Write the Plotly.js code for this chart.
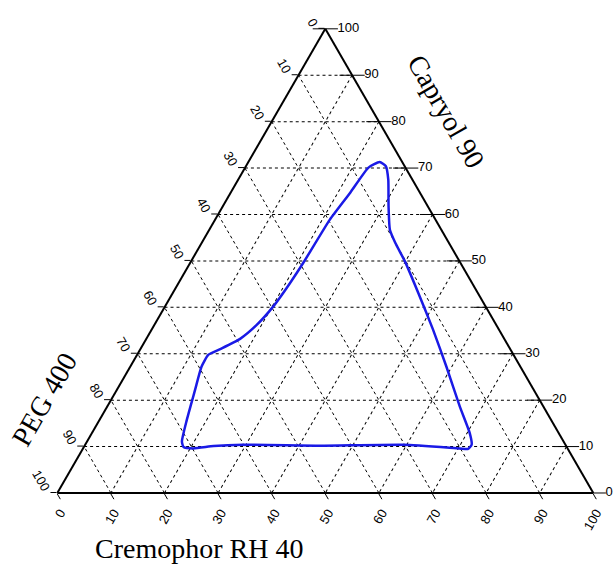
<!DOCTYPE html>
<html>
<head>
<meta charset="utf-8">
<script src="https://cdn.plot.ly/plotly-3.0.1.min.js"></script>
<style>html,body{margin:0;padding:0;background:#fff;}#chart{width:615px;height:568px;}</style>
</head>
<body>
<div id="chart"></div>
<script>
// Component names
const componentA = "Capryol 90";      // top vertex
const componentB = "PEG 400";         // bottom-left vertex
const componentC = "Cremophor RH 40"; // bottom-right vertex

// Boundary of the region (percent), traced around the outline
const capryol   = [71.3,70.4,67.5,61.8,56.7,53.9,49.9,43.1,35.2,27.2,18.6,12.9,10.4,9.5,9.6,10.4,10.2,10.4,10.1,9.6,9.9,11.1,15.7,22.2,27.2,29.8,31.0,33.2,36.2,40.2,45.2,49.6,58.9,64.7,70.1,71.3];
const peg       = [4.2,3.5,4.5,7.3,9.6,10.0,10.2,11.1,12.3,13.8,15.6,16.6,17.5,18.6,20.1,30.2,45.9,60.1,65.8,69.8,71.5,71.2,68.0,63.2,59.5,56.9,54.1,49.3,44.7,39.6,34.0,29.3,19.7,13.0,6.9,4.2];
const cremophor = [24.5,26.1,28.0,30.9,33.7,36.1,39.9,45.8,52.5,59.0,65.8,70.5,72.1,71.9,70.3,59.4,43.9,29.5,24.1,20.6,18.6,17.7,16.3,14.6,13.3,13.3,14.9,17.5,19.1,20.2,20.8,21.1,21.4,22.3,23.0,24.5];

// Tick values (0..100 by 10)
const tickValues = [0,10,20,30,40,50,60,70,80,90,100];
// Labels shown along the left and bottom edges give the value of the component read on that edge
const complementLabels = tickValues.map(v => String(100 - v));
const tickLabels = tickValues.map(v => String(v));

const tickFont = {family: "Liberation Sans, Arial, sans-serif", size: 13, color: "#000"};
const titleFont = {family: "Liberation Serif, Times New Roman, serif", size: 28, color: "#000"};

function axisStyle(extra) {
  return Object.assign({
    tickmode: "array",
    tickvals: tickValues,
    ticktext: complementLabels,
    ticks: "outside",
    ticklen: 6,
    tickwidth: 1,
    tickcolor: "#000",
    tickfont: tickFont,
    showline: true,
    linecolor: "#000",
    linewidth: 2,
    showgrid: true,
    gridcolor: "#000",
    gridwidth: 1,
    griddash: "3px,3px",
    layer: "below traces",
    title: {text: ""}
  }, extra);
}

const region = {
  type: "scatterternary",
  mode: "lines",
  a: capryol,
  b: peg,
  c: cremophor,
  line: {color: "#1a1ae6", width: 2.5, shape: "spline", smoothing: 0.5},
  hoverinfo: "skip",
  showlegend: false
};

// Capryol 90 scale along the right edge: horizontal ticks and labels
const capryolScale = {
  type: "scatterternary",
  mode: "markers+text",
  a: tickValues,
  b: tickValues.map(() => 0),
  c: tickValues.map(v => 100 - v),
  text: tickLabels,
  textposition: "middle right",
  textfont: tickFont,
  marker: {symbol: "line-ew", size: 18, color: "#000", line: {color: "#000", width: 1}},
  cliponaxis: false,
  hoverinfo: "skip",
  showlegend: false
};

const layout = {
  width: 615,
  height: 568,
  margin: {l: 0, r: 0, t: 0, b: 0},
  paper_bgcolor: "#fff",
  showlegend: false,
  ternary: {
    sum: 100,
    bgcolor: "rgba(0,0,0,0)",
    domain: {x: [0.0932, 0.9647], y: [0.13204, 0.9493]},
    aaxis: axisStyle({tickangle: 60}),
    baxis: axisStyle({tickangle: -60}),
    caxis: axisStyle({ticks: "", showticklabels: false})
  },
  annotations: [
    {text: componentA, xref: "paper", yref: "paper", x: 0.725, y: 0.803, showarrow: false,
     textangle: 60, font: titleFont, xanchor: "center", yanchor: "middle"},
    {text: componentB, xref: "paper", yref: "paper", x: 0.0715, y: 0.2975, showarrow: false,
     textangle: -60, font: titleFont, xanchor: "center", yanchor: "middle"},
    {text: componentC, xref: "paper", yref: "paper", x: 0.3228, y: 0.0335, showarrow: false,
     textangle: 0, font: titleFont, xanchor: "center", yanchor: "middle"}
  ]
};

Plotly.newPlot("chart", [region, capryolScale], layout, {staticPlot: true, displayModeBar: false});
</script>
</body>
</html>
